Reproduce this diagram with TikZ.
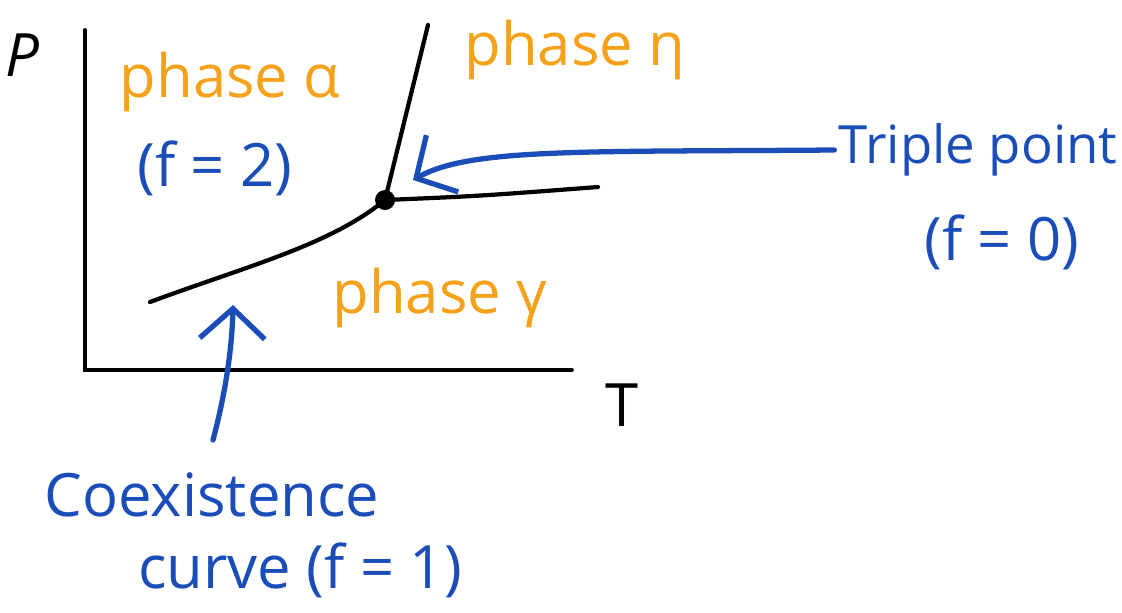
\documentclass[tikz,border=0pt]{standalone}
\usepackage{fontspec}
\setmainfont{Open Sans}
\usetikzlibrary{arrows.meta}
\definecolor{cblue}{HTML}{1A4DB8}
\definecolor{corange}{HTML}{F5A11A}
\tikzset{
  every picture/.style={font=\fontsize{17}{21}\selectfont},
  axis/.style={line width=1.1pt, line cap=round},
  curve/.style={line width=1.2pt, line cap=round},
  phase/.style={text=corange, inner sep=1pt},
  note/.style={text=cblue, align=center, inner sep=1pt},
  arrow/.style={-{Straight Barb[length=3mm, width=6.5mm]}, draw=cblue, line width=1.5pt, line cap=round},
}

\begin{document}
\begin{tikzpicture}[x=0.01cm, y=-0.01cm]
  \useasboundingbox (0,0) rectangle (1122,612);
  % axes
  \coordinate (o) at (85,370);
  \coordinate (ytop) at (85,30);
  \coordinate (xend) at (572,370);
  \draw[axis] (ytop) -- (o) -- (xend);
  \node (lblP) at (22,55) {\itshape P};
  \node (lblT) at (622,405) {T};
  % phase boundaries
  \node[circle, fill=black, inner sep=0pt, minimum size=0.2cm] (tp) at (385,200) {};
  \coordinate (c0) at (150,302);
  \coordinate (c1) at (598,187);
  \coordinate (c2) at (428,25);
  \draw[curve] (c0) .. controls (250,265) and (330,245) .. (tp.center);
  \draw[curve] (tp.center) .. controls (480,196) .. (c1);
  \draw[curve] (tp.center) -- (c2);
  % phase labels
  \node[phase] (alpha) at (230,82) {phase α};
  \node[phase] (eta) at (575,50) {phase η};
  \node[phase] (gamma) at (440,298) {phase γ};
  % notes
  \node[note] (f2) at (215,168) {(f = 2)};
  \node[note, font=\fontsize{15}{18}\selectfont] (tpl) at (978,150) {Triple point};
  \node[note] (tpf) at (1002,242) {(f = 0)};
  \node[note] (coex) at (212,495) {Coexistence};
  \node[note] (cv) at (300,570) {curve (f = 1)};
  \coordinate (tptip) at (413,180);
  \coordinate (cvtail) at (213,440);
  \coordinate (cvtip) at (233,305);
  \draw[arrow] (tpl.west) .. controls (580,152) and (470,148) .. (tptip);
  \draw[arrow] (cvtail) .. controls (225,395) and (232,350) .. (cvtip);
\end{tikzpicture}
\end{document}
